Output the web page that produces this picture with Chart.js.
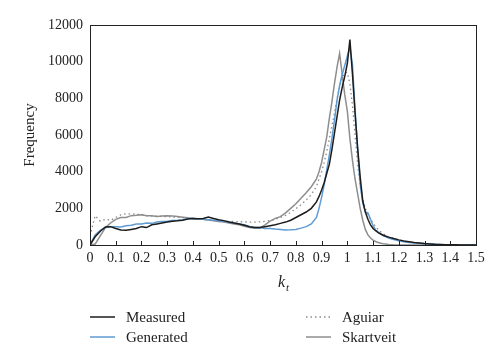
<!DOCTYPE html>
<html>
<head>
<meta charset="utf-8">
<script src="https://cdn.jsdelivr.net/npm/chart.js@4"></script>
<style>
  html, body { margin: 0; padding: 0; background: #fff; }
  #wrap { width: 500px; height: 364px; }
</style>
</head>
<body>
<div id="wrap"><canvas id="chart" width="500" height="364"></canvas></div>
<script>
// kt bins (finer around the peak)
const kt = [0, 0.02, 0.04, 0.06, 0.08, 0.10, 0.12, 0.14, 0.16, 0.18, 0.20, 0.22, 0.24, 0.26, 0.28, 0.30,
  0.32, 0.34, 0.36, 0.38, 0.40, 0.42, 0.44, 0.46, 0.48, 0.50, 0.52, 0.54, 0.56, 0.58, 0.60, 0.62, 0.64,
  0.66, 0.68, 0.70, 0.72, 0.74, 0.76, 0.78, 0.80, 0.82, 0.84, 0.86,
  0.88, 0.89, 0.90, 0.91, 0.92, 0.93, 0.94, 0.95, 0.96, 0.97, 0.98, 0.99, 1.00, 1.01, 1.02, 1.03, 1.04,
  1.05, 1.06, 1.07, 1.08, 1.09, 1.10, 1.11, 1.12, 1.13, 1.14, 1.15, 1.16,
  1.18, 1.20, 1.22, 1.24, 1.26, 1.28, 1.30, 1.32, 1.34, 1.36, 1.38, 1.40, 1.42, 1.44, 1.46, 1.48, 1.50]

const measured = [0, 450, 750, 980, 1000, 900, 820, 800, 850, 900, 1000, 950, 1100, 1150, 1200, 1250,
  1300, 1320, 1350, 1420, 1450, 1430, 1450, 1520, 1450, 1380, 1330, 1260, 1200, 1150, 1080, 1000, 950,
  950, 1000, 1050, 1100, 1180, 1250, 1350, 1500, 1650, 1800, 2000,
  2350, 2650, 3000, 3400, 3900, 4400, 5200, 6100, 7000, 7900, 8600, 9200, 9900, 11200, 9300, 7200, 5300,
  3700, 2400, 1800, 1400, 1100, 900, 780, 680, 600, 530, 480, 430,
  350, 280, 220, 180, 140, 110, 80, 60, 40, 30, 20, 10, 10, 5, 0, 0, 0]

const generated = [0, 550, 800, 950, 1000, 1000, 980, 1050, 1080, 1150, 1150, 1200, 1180, 1250, 1280, 1300,
  1330, 1350, 1380, 1450, 1450, 1430, 1400, 1380, 1350, 1320, 1280, 1250, 1200, 1150, 1100, 1000, 960,
  950, 900, 900, 870, 850, 820, 830, 850, 920, 1000, 1150,
  1500, 2000, 2600, 3300, 4100, 4900, 5800, 6800, 7900, 8700, 9300, 9800, 10300, 10800, 9800, 7400, 5200,
  3300, 2300, 1800, 1750, 1400, 1050, 820, 700, 600, 500, 440, 380,
  300, 230, 180, 140, 110, 90, 70, 50, 35, 25, 15, 10, 5, 0, 0, 0, 0]

const aguiar = [500, 1600, 1300, 1400, 1350, 1500, 1650, 1700, 1700, 1680, 1650, 1600, 1580, 1570, 1560, 1550,
  1530, 1520, 1500, 1480, 1450, 1420, 1400, 1370, 1340, 1320, 1300, 1290, 1280, 1270, 1260, 1250, 1250,
  1260, 1290, 1330, 1400, 1500, 1620, 1780, 1980, 2200, 2450, 2750,
  3200, 3600, 4000, 4500, 5100, 5800, 6500, 7200, 8000, 8600, 9100, 9400, 9400, 8800, 7600, 6000, 4400,
  3200, 2500, 2000, 1650, 1400, 1200, 1000, 850, 720, 600, 520, 450,
  360, 280, 200, 150, 120, 90, 60, 40, 30, 20, 10, 5, 0, 0, 0, 0, 0]

const skartveit = [0, 50, 500, 950, 1200, 1400, 1500, 1500, 1600, 1620, 1650, 1600, 1600, 1550, 1580, 1600,
  1580, 1560, 1520, 1480, 1450, 1420, 1400, 1360, 1320, 1280, 1250, 1200, 1150, 1100, 1020, 950, 920,
  920, 1100, 1300, 1450, 1550, 1750, 2000, 2250, 2550, 2850, 3180,
  3600, 4000, 4500, 5200, 5900, 6900, 7800, 8800, 9700, 10450, 9300, 8200, 7300, 5800, 4600, 3600, 2800,
  2000, 1350, 850, 550, 380, 270, 190, 140, 100, 70, 50, 30,
  10, 0, 0, 0, 0, 0, 0, 0, 0, 0, 0, 0, 0, 0, 0, 0, 0]

const yTicks = [0, 2000, 4000, 6000, 8000, 10000, 12000]

const serif = '"Liberation Serif", "DejaVu Serif", serif'

function pts(vals) {
  return kt.map((x, i) => ({ x: x, y: vals[i] }))
}

const series = [
  { label: 'Measured', data: pts(measured), borderColor: '#1c1c1c', borderWidth: 1.5, borderDash: [] },
  { label: 'Generated', data: pts(generated), borderColor: '#5f9bd3', borderWidth: 1.5, borderDash: [] },
  { label: 'Aguiar', data: pts(aguiar), borderColor: '#8a8a8a', borderWidth: 1.3, borderDash: [1.5, 3] },
  { label: 'Skartveit', data: pts(skartveit), borderColor: '#8e8e8e', borderWidth: 1.5, borderDash: [] }
]

// frame, inner ticks, axis titles and the 2x2 legend
const extras = {
  id: 'extras',
  afterDraw(chart) {
    const ctx = chart.ctx
    const a = chart.chartArea
    const xs = chart.scales.x
    ctx.save()
    ctx.strokeStyle = '#222'
    ctx.lineWidth = 1
    ctx.strokeRect(a.left + 0.5, a.top + 0.5, a.right - a.left, a.bottom - a.top)
    xs.ticks.forEach(t => {
      const px = Math.round(xs.getPixelForValue(t.value)) + 0.5
      ctx.beginPath()
      ctx.moveTo(px, a.bottom)
      ctx.lineTo(px, a.bottom - 4)
      ctx.stroke()
    })
    ctx.fillStyle = '#222'
    // y title
    ctx.save()
    ctx.translate(30, (a.top + a.bottom) / 2)
    ctx.rotate(-Math.PI / 2)
    ctx.font = '15px ' + serif
    ctx.textAlign = 'center'
    ctx.textBaseline = 'middle'
    ctx.fillText('Frequency', 0, 0)
    ctx.restore()
    // x title k_t
    ctx.font = 'italic 16px ' + serif
    ctx.textAlign = 'left'
    ctx.textBaseline = 'alphabetic'
    const cx = (a.left + a.right) / 2
    ctx.fillText('k', cx - 5, 287)
    ctx.font = 'italic 11px ' + serif
    ctx.fillText('t', cx + 3, 291)
    // legend
    const pos = [[90, 317], [90, 337], [306, 317], [306, 337]]
    chart.data.datasets.forEach((ds, i) => {
      const [lx, ly] = pos[i]
      ctx.strokeStyle = ds.borderColor
      ctx.lineWidth = ds.borderWidth
      ctx.setLineDash(ds.borderDash)
      ctx.beginPath()
      ctx.moveTo(lx, ly)
      ctx.lineTo(lx + 25, ly)
      ctx.stroke()
      ctx.setLineDash([])
      ctx.fillStyle = '#222'
      ctx.font = '15px ' + serif
      ctx.textBaseline = 'middle'
      ctx.fillText(ds.label, lx + 36, ly + 1)
    })
    ctx.restore()
  }
}

new Chart(document.getElementById('chart'), {
  type: 'line',
  data: {
    datasets: series.map(s => Object.assign({}, s, { pointRadius: 0, fill: false, tension: 0 }))
  },
  options: {
    responsive: false,
    animation: false,
    layout: { padding: { left: 0, top: 25, right: 24, bottom: 0 } },
    plugins: { legend: { display: false }, tooltip: { enabled: false } },
    scales: {
      x: {
        type: 'linear', min: 0, max: 1.5,
        afterFit: s => { s.height = 119 },
        grid: { display: false, drawTicks: false },
        border: { display: false },
        ticks: {
          stepSize: 0.1, padding: 5, color: '#222', maxRotation: 0, autoSkip: false,
          font: { family: serif, size: 14 },
          callback: v => String(Number(v.toFixed(1)))
        }
      },
      y: {
        min: 0, max: 12000,
        afterFit: s => { s.width = 90 },
        afterBuildTicks: s => { s.ticks = yTicks.map(v => ({ value: v })) },
        grid: { display: false, drawTicks: false },
        border: { display: false },
        ticks: {
          padding: 7, color: '#222', font: { family: serif, size: 14 },
          callback: v => String(v)
        }
      }
    }
  },
  plugins: [extras]
})
</script>
</body>
</html>
